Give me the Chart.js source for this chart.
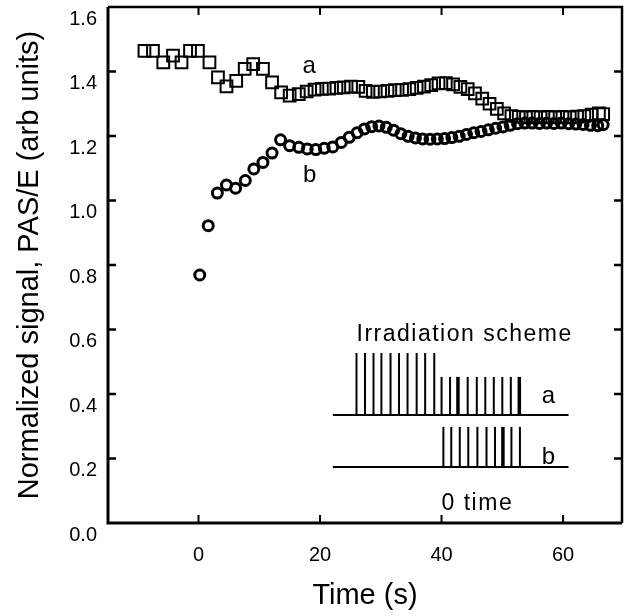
<!DOCTYPE html>
<html>
<head>
<meta charset="utf-8">
<script src="https://cdn.jsdelivr.net/npm/chart.js@4.4.1/dist/chart.umd.min.js"></script>
<style>
  html, body { margin: 0; padding: 0; background: #fff; }
  #wrap { width: 626px; height: 616px; }
</style>
</head>
<body>
<div id="wrap"><canvas id="c" width="626" height="616"></canvas></div>
<script>
// ---- data ----
const timeA = [-8.9, -7.5, -5.8, -4.2, -2.8, -1.4, -0.1, 1.8, 3.2, 4.6, 6.2, 7.6, 9.0, 10.6, 12.1, 13.6, 15.0, 16.5,
  17.8, 19.1, 20.3, 21.5, 22.7, 23.9, 25.1, 26.3, 27.5, 28.7, 29.9, 31.1, 32.3, 33.5, 34.7, 35.9, 37.1, 38.3, 39.5,
  40.7, 41.9, 43.1, 44.3, 45.5, 46.7, 47.9, 49.1, 50.3, 51.5, 52.7, 53.9, 55.1, 56.3, 57.5, 58.7, 59.9, 61.1, 62.3,
  63.5, 64.7, 65.9, 66.6];
const signalA = [1.464, 1.464, 1.428, 1.449, 1.428, 1.464, 1.464, 1.428, 1.382, 1.354, 1.371, 1.408, 1.423, 1.408,
  1.366, 1.335, 1.325, 1.330, 1.338, 1.344, 1.346, 1.347, 1.349, 1.351, 1.353, 1.352, 1.340, 1.337, 1.338, 1.340,
  1.342, 1.343, 1.345, 1.349, 1.353, 1.358, 1.363, 1.364, 1.360, 1.352, 1.345, 1.332, 1.316, 1.300, 1.284, 1.270,
  1.262, 1.259, 1.258, 1.259, 1.258, 1.259, 1.258, 1.259, 1.258, 1.260, 1.262, 1.266, 1.270, 1.268];
const timeB = [0.2, 1.6, 3.1, 4.6, 6.1, 7.7, 9.1, 10.6, 12.1, 13.5, 15.0, 16.5, 17.9, 19.3, 20.7, 22.1, 23.5, 24.8,
  26.1, 27.3, 28.5, 29.7, 30.9, 32.1, 33.3, 34.5, 35.7, 36.9, 38.1, 39.3, 40.5, 41.7, 42.9, 44.1, 45.3, 46.5, 47.7,
  48.9, 50.1, 51.3, 52.5, 53.7, 54.9, 56.1, 57.3, 58.5, 59.7, 60.9, 62.1, 63.3, 64.5, 65.7, 66.6];
const signalB = [0.769, 0.922, 1.023, 1.048, 1.038, 1.062, 1.098, 1.118, 1.147, 1.188, 1.170, 1.165, 1.160, 1.158,
  1.162, 1.166, 1.180, 1.196, 1.210, 1.222, 1.229, 1.231, 1.227, 1.218, 1.207, 1.199, 1.194, 1.191, 1.190, 1.191,
  1.192, 1.195, 1.199, 1.205, 1.210, 1.214, 1.219, 1.224, 1.228, 1.233, 1.238, 1.240, 1.240, 1.239, 1.240, 1.239,
  1.240, 1.238, 1.237, 1.236, 1.233, 1.232, 1.235];
const xTicks = [0, 20, 40, 60];
const yTicks = [0.0, 0.2, 0.4, 0.6, 0.8, 1.0, 1.2, 1.4, 1.6];

// irradiation scheme (inset), pulse times in the chart's time units
const pulsesALong = [26.0, 27.4, 28.8, 30.1, 31.6, 33.0, 34.4, 35.9, 37.3, 38.8];
const pulsesAShort = [40.0, 41.4, 42.7, 44.3, 45.8, 47.2, 48.6, 50.0, 51.4, 52.8];
const pulsesB = [40.3, 41.6, 43.0, 44.4, 45.9, 47.4, 48.8, 50.1, 51.5, 52.9];
const thickA = [42.7, 52.8];
const thickB = [50.1];

// ---- layout of inset (in axis units) ----
const inset = {
  lineStart: 22.1, lineEnd: 60.9,
  aBase: 0.335, aLongTop: 0.527, aShortTop: 0.453,
  bBase: 0.174, bTop: 0.298,
  titleX: 43.8, titleY: 0.564,
  aLabelX: 57.6, aLabelY: 0.372,
  bLabelX: 57.6, bLabelY: 0.183,
  zeroX: 40.0, zeroY: 0.040
};
const seriesLabels = { a: [18.2, 1.394], b: [18.3, 1.058] };

const FONT = "'Liberation Sans', Arial, sans-serif";

const framePlugin = {
  id: 'frame',
  afterDatasetsDraw(chart) {
    const {ctx, chartArea: ca, scales: {x, y}} = chart;
    ctx.save();
    ctx.strokeStyle = '#000';
    ctx.lineCap = 'butt';
    ctx.lineWidth = 3;
    ctx.beginPath();
    ctx.moveTo(ca.left, ca.top); ctx.lineTo(ca.left, ca.bottom); ctx.lineTo(ca.right, ca.bottom);
    ctx.stroke();
    ctx.lineWidth = 2.5;
    ctx.beginPath();
    ctx.moveTo(ca.left, ca.top); ctx.lineTo(ca.right, ca.top); ctx.lineTo(ca.right, ca.bottom);
    ctx.stroke();
    const tl = 8;
    ctx.lineWidth = 2.5;
    y.ticks.forEach(t => {
      const py = y.getPixelForValue(t.value);
      if (py <= ca.top + 1 || py >= ca.bottom - 1) return;
      ctx.beginPath();
      ctx.moveTo(ca.left, py); ctx.lineTo(ca.left + tl, py);
      ctx.moveTo(ca.right, py); ctx.lineTo(ca.right - tl, py);
      ctx.stroke();
    });
    ctx.lineWidth = 2;
    x.ticks.forEach(t => {
      const px = x.getPixelForValue(t.value);
      ctx.beginPath();
      ctx.moveTo(px, ca.bottom); ctx.lineTo(px, ca.bottom - tl);
      ctx.moveTo(px, ca.top); ctx.lineTo(px, ca.top + tl);
      ctx.stroke();
    });
    ctx.restore();
  },
  afterDraw(chart) {
    const {ctx, scales: {x, y}} = chart;
    const X = v => x.getPixelForValue(v), Y = v => y.getPixelForValue(v);
    ctx.save();
    ctx.strokeStyle = '#000';
    ctx.fillStyle = '#000';
    ctx.lineWidth = 2;
    ctx.beginPath();
    ctx.moveTo(X(inset.lineStart), Y(inset.aBase)); ctx.lineTo(X(inset.lineEnd), Y(inset.aBase));
    ctx.moveTo(X(inset.lineStart), Y(inset.bBase)); ctx.lineTo(X(inset.lineEnd), Y(inset.bBase));
    ctx.stroke();
    const pulse = (t, base, top, thick) => {
      ctx.lineWidth = thick ? 3.5 : 2;
      ctx.beginPath();
      ctx.moveTo(X(t), Y(base)); ctx.lineTo(X(t), Y(top));
      ctx.stroke();
    };
    pulsesALong.forEach(t => pulse(t, inset.aBase, inset.aLongTop, false));
    pulsesAShort.forEach(t => pulse(t, inset.aBase, inset.aShortTop, thickA.includes(t)));
    pulsesB.forEach(t => pulse(t, inset.bBase, inset.bTop, thickB.includes(t)));
    ctx.textBaseline = 'alphabetic';
    ctx.font = '23px ' + FONT;
    try { ctx.letterSpacing = '1.5px'; } catch (e) {}
    ctx.textAlign = 'center';
    ctx.fillText('Irradiation scheme', X(inset.titleX), Y(inset.titleY));
    ctx.textAlign = 'left';
    ctx.fillText('0 time', X(inset.zeroX), Y(inset.zeroY));
    try { ctx.letterSpacing = '0px'; } catch (e) {}
    ctx.font = '24px ' + FONT;
    ctx.textAlign = 'center';
    ctx.fillText('a', X(inset.aLabelX), Y(inset.aLabelY));
    ctx.fillText('b', X(inset.bLabelX), Y(inset.bLabelY));
    ctx.fillText('a', X(seriesLabels.a[0]), Y(seriesLabels.a[1]));
    ctx.fillText('b', X(seriesLabels.b[0]), Y(seriesLabels.b[1]));
    ctx.restore();
  }
};

new Chart(document.getElementById('c'), {
  type: 'scatter',
  data: {
    datasets: [
      {
        label: 'a',
        data: timeA.map((t, i) => ({x: t, y: signalA[i]})),
        pointStyle: 'rect',
        pointRadius: 8.3,
        pointBorderWidth: 2,
        borderColor: '#000',
        backgroundColor: 'rgba(0,0,0,0)',
        showLine: false
      },
      {
        label: 'b',
        data: timeB.map((t, i) => ({x: t, y: signalB[i]})),
        pointStyle: 'circle',
        pointRadius: 5,
        pointBorderWidth: 3,
        borderColor: '#000',
        backgroundColor: 'rgba(0,0,0,0)',
        showLine: false
      }
    ]
  },
  options: {
    responsive: false,
    animation: false,
    devicePixelRatio: 1,
    layout: { autoPadding: false, padding: { top: 7, right: 4, left: 0, bottom: 0 } },
    plugins: { legend: { display: false }, tooltip: { enabled: false } },
    scales: {
      x: {
        type: 'linear',
        min: -14.9,
        max: 69.7,
        grid: { display: false, drawTicks: false },
        border: { display: false },
        afterBuildTicks: s => { s.ticks = xTicks.map(v => ({value: v})); },
        afterFit: s => { s.height = 93; s.paddingLeft = 0; s.paddingRight = 0; },
        ticks: {
          color: '#000',
          font: { family: FONT, size: 20 },
          padding: 20,
          maxRotation: 0,
          callback: v => String(v)
        },
        title: {
          display: true,
          text: 'Time (s)',
          color: '#000',
          font: { family: FONT, size: 29 },
          padding: { top: 0, bottom: 3 }
        }
      },
      y: {
        type: 'linear',
        min: 0,
        max: 1.6,
        grid: { display: false, drawTicks: false },
        border: { display: false },
        afterBuildTicks: s => { s.ticks = yTicks.map(v => ({value: v})); },
        afterFit: s => { s.width = 108; s.paddingTop = 0; s.paddingBottom = 0; },
        ticks: {
          color: '#000',
          font: { family: FONT, size: 20 },
          padding: 11,
          labelOffset: 12,
          callback: v => Number(v).toFixed(1)
        },
        title: {
          display: true,
          text: 'Normalized signal, PAS/E (arb units)',
          color: '#000',
          font: { family: FONT, size: 29 },
          padding: { top: 13, bottom: 0 }
        }
      }
    }
  },
  plugins: [framePlugin]
});
</script>
</body>
</html>
